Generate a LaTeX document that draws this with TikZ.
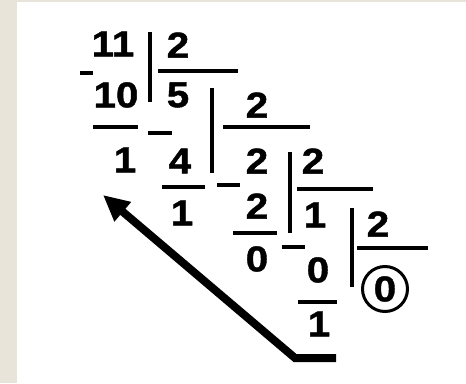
\documentclass[tikz,border=0pt]{standalone}
\usepackage{fontspec}
\setmainfont{Liberation Sans}
\newfontfamily\digitfont{Liberation Sans}[UprightFont=*-Bold,FakeBold=1.2,FakeStretch=1.12]
\usetikzlibrary{arrows.meta,positioning,calc}
\definecolor{paperGray}{HTML}{E8E4DA}

\begin{document}
\begin{tikzpicture}[
    x=1pt,y=-1pt,
    digit/.style={inner sep=0pt,font=\fontsize{36}{36}\digitfont},
    rule/.style={line width=3.2pt},
    bar/.style={line width=4pt},
    ring/.style={circle,draw,line width=3pt,minimum size=45pt,inner sep=0pt},
    back/.style={-{Triangle[length=26pt,width=24pt]},line width=8pt,line join=miter}
]
    % paper and margins
    \fill[paperGray] (0,0) rectangle (466,383);
    \fill[white] (17,2) rectangle (466,383);
    \useasboundingbox (0,0) rectangle (466,383);

    % 11 : 2
    \node[digit] (a11) at (113,44) {11};
    \node[digit] (a10) at (116,95) {10};
    \node[digit] (ar) at (125,160) {1};
    \node[digit] (ad) at (178,45) {2};
    \node[digit] (aq) at (178,95) {5};
    \draw[bar] (150,32) -- (150,102);
    \draw[rule] (158,71) -- (238,71);
    \draw[rule] (80,73) -- (93,73);
    \draw[rule] (93,127) -- (138,127);

    % 5 : 2
    \node[digit] (b4) at (180,161) {4};
    \node[digit] (br) at (182,213) {1};
    \node[digit] (bd) at (257,105) {2};
    \node[digit] (bq) at (257,161) {2};
    \draw[bar] (212,88) -- (212,173);
    \draw[rule] (223,127) -- (310,127);
    \draw[rule] (148,133) -- (172,133);
    \draw[rule] (162,187) -- (205,187);

    % 2 : 2
    \node[digit] (c2) at (257,206) {2};
    \node[digit] (cr) at (257,259) {0};
    \node[digit] (cd) at (313,161) {2};
    \node[digit] (cq) at (315,215) {1};
    \draw[bar] (290,152) -- (290,233);
    \draw[rule] (297,189) -- (373,189);
    \draw[rule] (217,185) -- (240,185);
    \draw[rule] (233,233) -- (277,233);

    % 1 : 2
    \node[digit] (d0) at (318,270) {0};
    \node[digit] (dr) at (319,324) {1};
    \node[digit] (dd) at (378,224) {2};
    \node[digit,ring] (dq) at (385,289) {0};
    \draw[bar] (352,208) -- (352,287);
    \draw[rule] (357,248) -- (428,248);
    \draw[rule] (282,247) -- (305,247);
    \draw[rule] (298,302) -- (337,302);

    % read remainders upwards
    \coordinate (start) at (336,358);
    \coordinate (turn) at (295,358);
    \coordinate (tip) at (103,195);
    \draw[back] (start) -- (turn) -- (tip);
\end{tikzpicture}
\end{document}
